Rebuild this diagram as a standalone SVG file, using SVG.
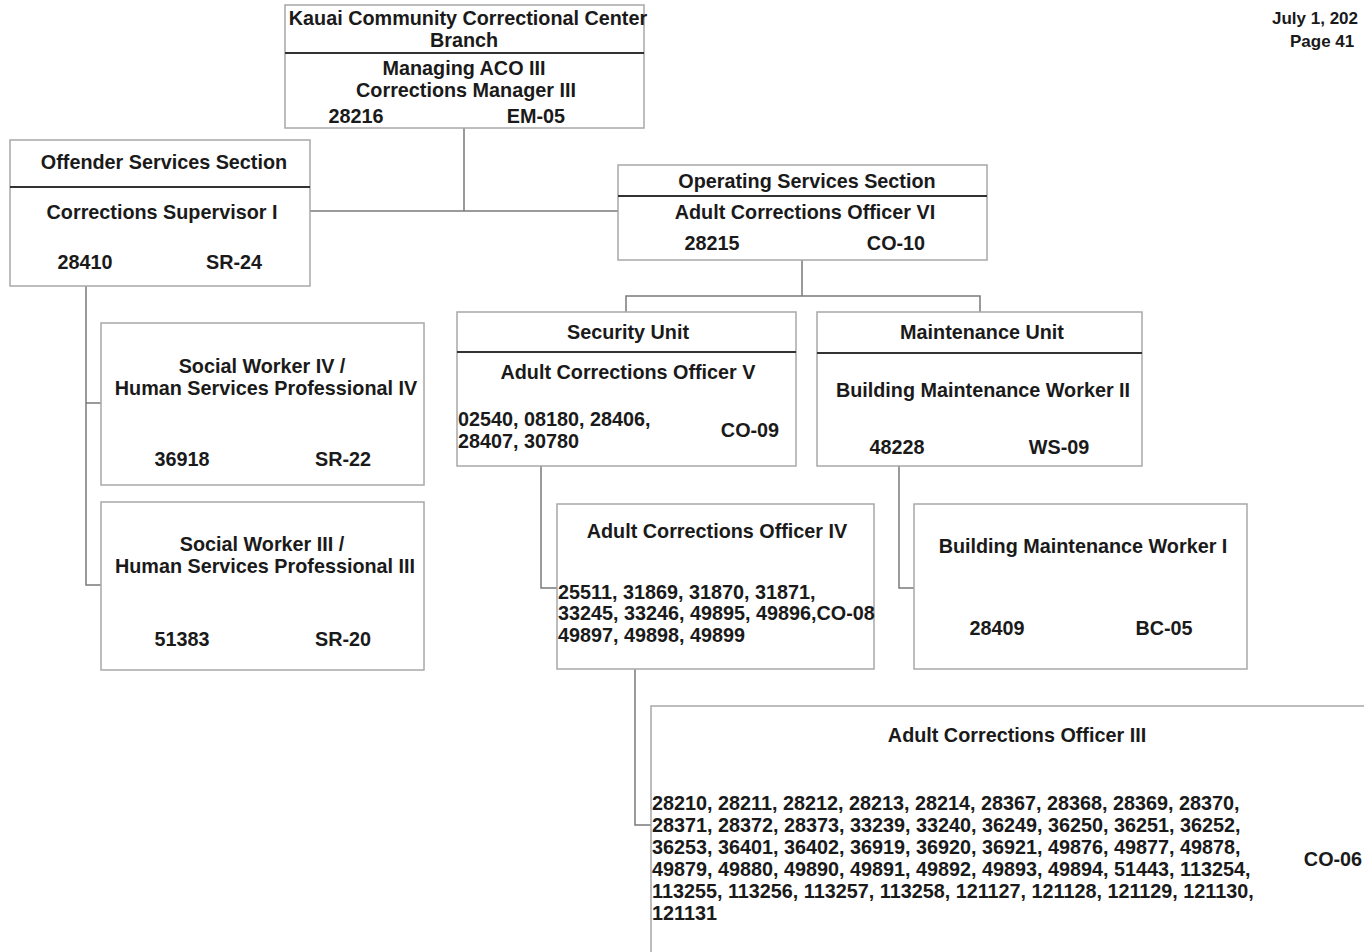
<svg xmlns="http://www.w3.org/2000/svg" width="1364" height="952" viewBox="0 0 1364 952">
<style>
text{font-family:"Liberation Sans",Arial,sans-serif;font-weight:bold;font-size:19.8px;fill:#1a1a1a}
.c{text-anchor:middle}
.box{fill:#fff;stroke:#a8a8a8;stroke-width:1.5}
.div{stroke:#333;stroke-width:2}
.con{fill:none;stroke:#7a7a7a;stroke-width:1.5}
.d{font-size:17px}
</style>
<rect width="1364" height="952" fill="#fff"/>
<g id="connectors">
<path class="con" d="M464,128V211M310,211H618"/>
<path class="con" d="M802,260V296M626,312V296H980V312"/>
<path class="con" d="M86,286V585H101M86,403H101"/>
<path class="con" d="M541,466V588H557"/>
<path class="con" d="M899,466V588H914"/>
<path class="con" d="M635,669V825H651"/>
</g>
<g id="date">
<text class="d" x="1272" y="24">July 1, 202</text>
<text class="d" x="1290" y="47">Page 41</text>
</g>
<g id="kauai">
<rect class="box" x="285" y="5" width="359" height="123"/>
<line class="div" x1="285" y1="53" x2="644" y2="53"/>
<text class="c" x="468" y="25">Kauai Community Correctional Center</text>
<text class="c" x="464" y="47">Branch</text>
<text class="c" x="464" y="75">Managing ACO III</text>
<text class="c" x="466" y="97">Corrections Manager III</text>
<text class="c" x="356" y="123">28216</text>
<text class="c" x="536" y="123">EM-05</text>
</g>
<g id="offender">
<rect class="box" x="10" y="140" width="300" height="146"/>
<line class="div" x1="10" y1="187" x2="310" y2="187"/>
<text class="c" x="164" y="169">Offender Services Section</text>
<text class="c" x="162" y="219">Corrections Supervisor I</text>
<text class="c" x="85" y="269">28410</text>
<text class="c" x="234" y="269">SR-24</text>
</g>
<g id="operating">
<rect class="box" x="618" y="165" width="369" height="95"/>
<line class="div" x1="618" y1="196" x2="987" y2="196"/>
<text class="c" x="807" y="188">Operating Services Section</text>
<text class="c" x="805" y="219">Adult Corrections Officer VI</text>
<text class="c" x="712" y="250">28215</text>
<text class="c" x="896" y="250">CO-10</text>
</g>
<g id="security">
<rect class="box" x="457" y="312" width="339" height="154"/>
<line class="div" x1="457" y1="352" x2="796" y2="352"/>
<text class="c" x="628" y="339">Security Unit</text>
<text class="c" x="628" y="379">Adult Corrections Officer V</text>
<text x="458" y="426">02540, 08180, 28406,</text>
<text x="458" y="448">28407, 30780</text>
<text class="c" x="750" y="437">CO-09</text>
</g>
<g id="maintenance">
<rect class="box" x="817" y="312" width="325" height="154"/>
<line class="div" x1="817" y1="353" x2="1142" y2="353"/>
<text class="c" x="982" y="339">Maintenance Unit</text>
<text class="c" x="983" y="397">Building Maintenance Worker II</text>
<text class="c" x="897" y="454">48228</text>
<text class="c" x="1059" y="454">WS-09</text>
</g>
<g id="sw4">
<rect class="box" x="101" y="323" width="323" height="162"/>
<text class="c" x="262" y="373">Social Worker IV /</text>
<text class="c" x="266" y="395">Human Services Professional IV</text>
<text class="c" x="182" y="466">36918</text>
<text class="c" x="343" y="466">SR-22</text>
</g>
<g id="sw3">
<rect class="box" x="101" y="502" width="323" height="168"/>
<text class="c" x="262" y="551">Social Worker III /</text>
<text class="c" x="265" y="573">Human Services Professional III</text>
<text class="c" x="182" y="646">51383</text>
<text class="c" x="343" y="646">SR-20</text>
</g>
<g id="aco4">
<rect class="box" x="557" y="504" width="317" height="165"/>
<text class="c" x="717" y="538">Adult Corrections Officer IV</text>
<text x="558" y="599">25511, 31869, 31870, 31871,</text>
<text x="558" y="620">33245, 33246, 49895, 49896,CO-08</text>
<text x="558" y="642">49897, 49898, 49899</text>
</g>
<g id="bmw1">
<rect class="box" x="914" y="504" width="333" height="165"/>
<text class="c" x="1083" y="553">Building Maintenance Worker I</text>
<text class="c" x="997" y="635">28409</text>
<text class="c" x="1164" y="635">BC-05</text>
</g>
<g id="aco3">
<rect class="box" x="651" y="706" width="730" height="260"/>
<text class="c" x="1017" y="742">Adult Corrections Officer III</text>
<text x="652" y="810">28210, 28211, 28212, 28213, 28214, 28367, 28368, 28369, 28370,</text>
<text x="652" y="832">28371, 28372, 28373, 33239, 33240, 36249, 36250, 36251, 36252,</text>
<text x="652" y="854">36253, 36401, 36402, 36919, 36920, 36921, 49876, 49877, 49878,</text>
<text x="652" y="876">49879, 49880, 49890, 49891, 49892, 49893, 49894, 51443, 113254,</text>
<text x="652" y="898">113255, 113256, 113257, 113258, 121127, 121128, 121129, 121130,</text>
<text x="652" y="920">121131</text>
<text class="c" x="1333" y="866">CO-06</text>
</g>
</svg>
